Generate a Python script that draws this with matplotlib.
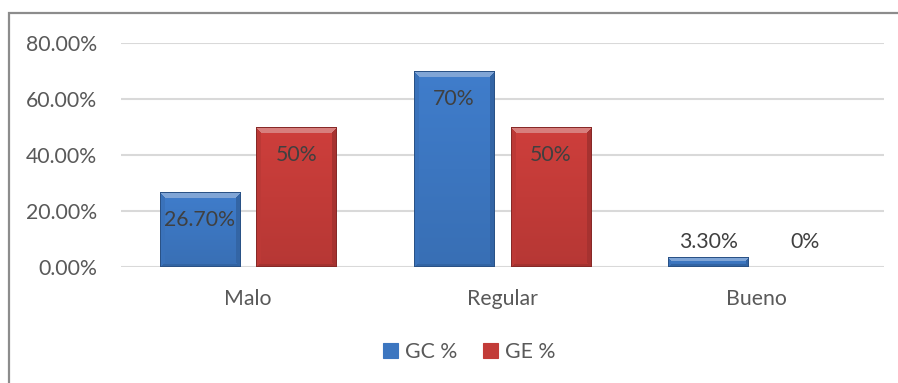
import numpy as np
import matplotlib
matplotlib.use("Agg")
import matplotlib.pyplot as plt
from matplotlib.patches import Rectangle, Patch
from matplotlib.colors import to_rgb

# Data
categories = ["Malo", "Regular", "Bueno"]
series_names = ["GC %", "GE %"]
gc_values = [26.7, 70.0, 3.3]
ge_values = [50.0, 50.0, 0.0]
gc_labels = ["26.70%", "70%", "3.30%"]
ge_labels = ["50%", "50%", "0%"]
y_ticks = [0, 20, 40, 60, 80]

plt.rcParams["font.family"] = ["Lato", "DejaVu Sans"]
TEXT = "#595959"
LABEL = "#404040"
FS = 15.3

W, H = 898, 383
fig = plt.figure(figsize=(W / 100, H / 100), dpi=100)
ax = fig.add_axes([121 / W, 1 - 267 / H, (884 - 121) / W, (267 - 43) / H])

# outer chart frame
fig.patches.append(Rectangle((9 / W, -0.1), 1.2, 1 - 13 / H + 0.1, transform=fig.transFigure,
                             fill=False, edgecolor="#8c8c8c", linewidth=1.6, zorder=0))

ax.set_xlim(-0.5, len(categories) - 0.5)
ax.set_ylim(0, 80)
ax.set_yticks(y_ticks)
ax.set_yticklabels([f"{t:.2f}%" for t in y_ticks])
ax.set_xticks(range(len(categories)))
ax.set_xticklabels(categories)
ax.tick_params(axis="both", length=0, labelsize=FS, labelcolor=TEXT)
ax.tick_params(axis="y", pad=17)
ax.tick_params(axis="x", pad=16)
for s in ax.spines.values():
    s.set_visible(False)
ax.grid(axis="y", color="#d9d9d9", linewidth=1.5, zorder=0)
ax.set_axisbelow(True)

bar_w = 0.315
offsets = [-0.19, 0.19]
base_colors = ["#3c76c0", "#c23b38"]


def shaded_bar(x_center, value, color):
    x0, x1 = x_center - bar_w / 2, x_center + bar_w / 2
    p0 = ax.transData.transform((x0, 0))
    p1 = ax.transData.transform((x1, value))
    wpx = max(int(round(p1[0] - p0[0])), 2)
    hpx = max(int(round(p1[1] - p0[1])), 2)
    base = np.array(to_rgb(color))
    yy, xx = np.mgrid[0:hpx, 0:wpx]
    d_t = yy + 0.5
    d_b = hpx - yy - 0.5
    d_l = xx + 0.5
    d_r = wpx - xx - 0.5
    b = min(6.0, hpx / 2.0)
    grad = 1.06 - 0.12 * (yy / max(hpx - 1, 1))
    img = base[None, None, :] * grad[..., None]
    dmin = np.minimum.reduce([d_t, d_b, d_l, d_r])
    top = (d_t == dmin) & (d_t < b)
    left = (d_l == dmin) & (d_l < b - 1) & ~top
    right = (d_r == dmin) & (d_r < b - 1) & ~top
    bottom = (d_b == dmin) & (d_b < 3) & ~(top | left | right)
    white = np.ones(3)
    img[top] = base * 0.65 + white * 0.35
    img[left] = base * 0.97
    img[right] = base * 0.86
    img[bottom] = base * 0.85
    edge = dmin < 1.0
    img[edge] = base * 0.7
    img = np.clip(img, 0, 1)
    ax.bar(x_center, value, width=bar_w, color=color, zorder=2, linewidth=0)
    ax.imshow(img, extent=(x0, x1, 0, value), origin="upper", aspect="auto",
              interpolation="nearest", zorder=3)


fig.canvas.draw()
for si, (vals, labels) in enumerate([(gc_values, gc_labels), (ge_values, ge_labels)]):
    for ci, (v, lab) in enumerate(zip(vals, labels)):
        xc = ci + offsets[si]
        if v > 0:
            shaded_bar(xc, v, base_colors[si])
        if v > 15:
            ax.annotate(lab, xy=(xc, v), xytext=(0, -20.2), textcoords="offset points",
                        ha="center", va="center", fontsize=FS, color=LABEL, zorder=5)
        else:
            ax.annotate(lab, xy=(xc, 0), xytext=(0, 18), textcoords="offset points",
                        ha="center", va="center", fontsize=FS, color=LABEL, zorder=5)

ax.set_xlim(-0.5, len(categories) - 0.5)
ax.set_ylim(0, 80)

handles = [Patch(facecolor=c, edgecolor=to_rgb(c), linewidth=0.8) for c in base_colors]
fig.legend(handles, series_names, loc="center", bbox_to_anchor=(469 / W, 1 - 352 / H),
           ncol=2, frameon=False, fontsize=FS, labelcolor=TEXT, handlelength=0.7,
           handleheight=0.7, handletextpad=0.35, columnspacing=1.2)

fig.savefig("out.png", dpi=100, facecolor="white")
